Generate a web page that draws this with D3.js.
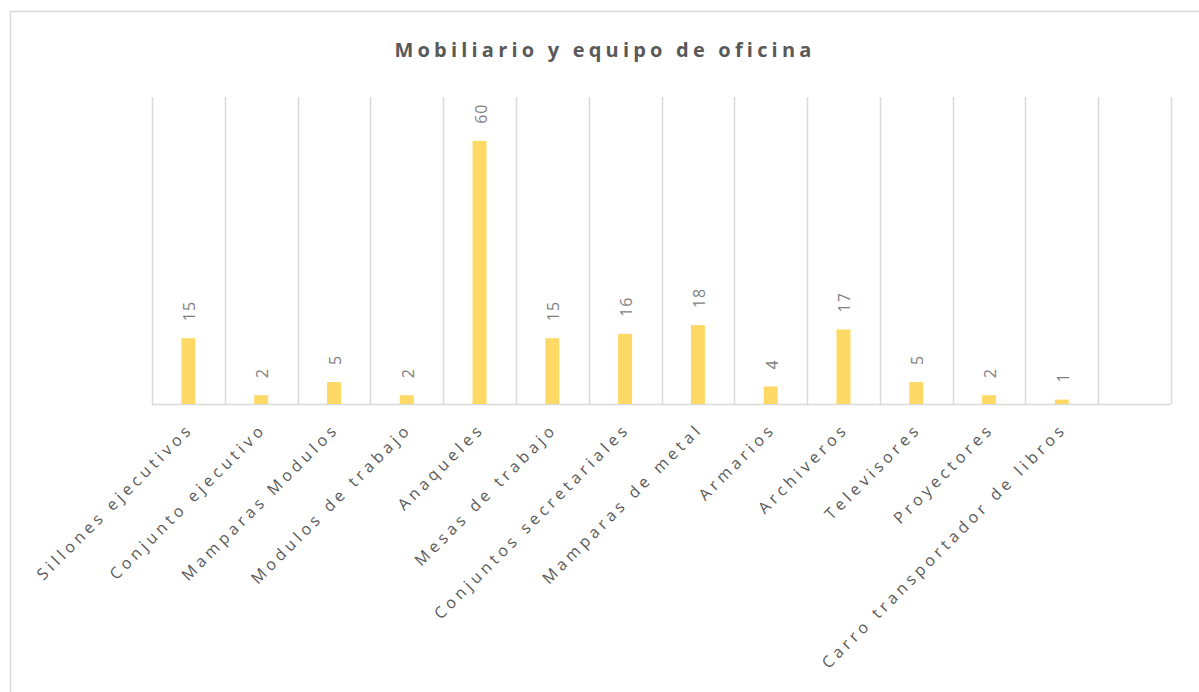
<!DOCTYPE html>
<html>
<head>
<meta charset="utf-8">
<script src="https://cdn.jsdelivr.net/npm/d3@7"></script>
<style>
  body { margin: 0; background: #fff; }
  svg { display: block; }
</style>
</head>
<body>
<script>
// chart data
var categories = ["Sillones ejecutivos", "Conjunto ejecutivo", "Mamparas Modulos", "Modulos de trabajo",
  "Anaqueles", "Mesas de trabajo", "Conjuntos secretariales", "Mamparas de metal", "Armarios",
  "Archiveros", "Televisores", "Proyectores", "Carro transportador de libros"];
var values = [15, 2, 5, 2, 60, 15, 16, 18, 4, 17, 5, 2, 1];
var slots = 14; // the source sheet has one empty slot at the end
var yMax = 70;

var width = 1199,
    height = 692;

var margin = {top: 97, left: 152, right: 28, bottom: 288};

var svg = d3.select("body").append("svg")
    .attr("width", width)
    .attr("height", height);

// chart frame
svg.append("rect")
    .attr("x", 10.5)
    .attr("y", 11.5)
    .attr("width", width)
    .attr("height", height)
    .style("fill", "none")
    .style("stroke", "#d9d9d9")
    .style("stroke-width", 1.5);

svg.append("text")
    .attr("x", 605)
    .attr("y", 57)
    .attr("text-anchor", "middle")
    .style("font-family", "'Open Sans', sans-serif")
    .style("font-weight", "bold")
    .style("font-size", "20px")
    .style("letter-spacing", "4.2px")
    .style("fill", "#595959")
    .text("Mobiliario y equipo de oficina");

var x = d3.scaleBand()
    .domain(d3.range(slots))
    .range([margin.left, width - margin.right]);

var y = d3.scaleLinear()
    .domain([0, yMax])
    .range([height - margin.bottom, margin.top]);

// vertical gridlines between categories
svg.append("g")
    .selectAll("line")
    .data(d3.range(slots + 1))
    .enter().append("line")
    .attr("x1", function(d) { return Math.round(margin.left + d * x.step()) + 0.5; })
    .attr("x2", function(d) { return Math.round(margin.left + d * x.step()) + 0.5; })
    .attr("y1", y(yMax))
    .attr("y2", y(0))
    .style("stroke", "#d9d9d9")
    .style("stroke-width", 1.5);

svg.append("line")
    .attr("x1", margin.left)
    .attr("x2", width - margin.right)
    .attr("y1", y(0) + 0.5)
    .attr("y2", y(0) + 0.5)
    .style("stroke", "#d9d9d9")
    .style("stroke-width", 1.5);

var barW = 14;

svg.append("g")
    .selectAll("rect")
    .data(values)
    .enter().append("rect")
    .attr("x", function(d, i) { return x(i) + x.bandwidth() / 2 - barW / 2; })
    .attr("y", function(d) { return y(d); })
    .attr("width", barW)
    .attr("height", function(d) { return y(0) - y(d); })
    .attr("fill", "#ffd966");

// value labels, rotated
svg.append("g")
    .selectAll("text")
    .data(values)
    .enter().append("text")
    .attr("transform", function(d, i) {
        return "translate(" + (x(i) + x.bandwidth() / 2 + 1) + "," + (y(d) - 17) + ") rotate(-90)";
    })
    .attr("dominant-baseline", "central")
    .style("font-family", "'Open Sans', sans-serif")
    .style("font-size", "16px")
    .style("letter-spacing", "1px")
    .style("fill", "#7f7f7f")
    .text(function(d) { return d; });

// category labels at -45
svg.append("g")
    .selectAll("text")
    .data(categories)
    .enter().append("text")
    .attr("transform", function(d, i) {
        return "translate(" + (x(i) + x.bandwidth() / 2 + 6) + "," + (y(0) + 26) + ") rotate(-45)";
    })
    .attr("text-anchor", "end")
    .style("font-family", "'Open Sans', sans-serif")
    .style("font-size", "16px")
    .style("letter-spacing", "4.1px")
    .style("fill", "#595959")
    .text(function(d) { return d; });
</script>
</body>
</html>
